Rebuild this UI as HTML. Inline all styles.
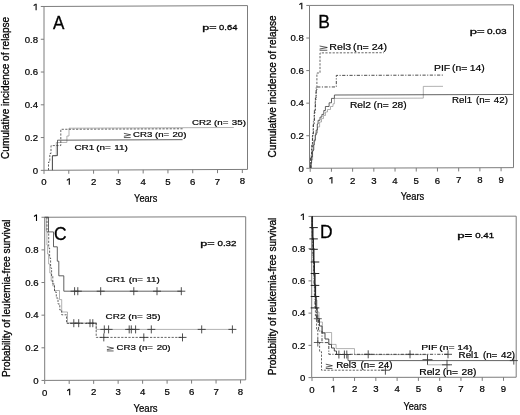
<!DOCTYPE html>
<html><head><meta charset="utf-8"><title>Figure</title>
<style>
html,body{margin:0;padding:0;background:#fff;}
body{width:520px;height:415px;overflow:hidden;}
svg{display:block;font-family:"Liberation Sans",sans-serif;}
</style></head><body>
<svg width="520" height="415" viewBox="0 0 520 415">
<rect width="520" height="415" fill="#fff"/>
<defs><filter id="bl" x="0" y="0" width="100%" height="100%" filterUnits="userSpaceOnUse" color-interpolation-filters="sRGB"><feGaussianBlur stdDeviation="0.38"/></filter></defs>
<g id="all" filter="url(#bl)">
<g id="A">
<path d="M44.00,6.47 L247.50,5.59 L247.50,169.42 L44.00,170.30 Z" fill="none" stroke="#7c7c7c" stroke-width="1"/>
<line x1="40.80" y1="170.35" x2="44.00" y2="170.35" stroke="#7c7c7c" stroke-width="1" />
<text x="38.10" y="173.65" font-size="9.6" text-anchor="end" font-weight="normal" fill="#000" stroke="#000" stroke-width="0.22">0</text>
<line x1="40.80" y1="137.57" x2="44.00" y2="137.57" stroke="#7c7c7c" stroke-width="1" />
<text x="38.10" y="140.87" font-size="9.6" text-anchor="end" font-weight="normal" fill="#000" stroke="#000" stroke-width="0.22">0.2</text>
<line x1="40.80" y1="104.80" x2="44.00" y2="104.80" stroke="#7c7c7c" stroke-width="1" />
<text x="38.10" y="108.10" font-size="9.6" text-anchor="end" font-weight="normal" fill="#000" stroke="#000" stroke-width="0.22">0.4</text>
<line x1="40.80" y1="72.02" x2="44.00" y2="72.02" stroke="#7c7c7c" stroke-width="1" />
<text x="38.10" y="75.32" font-size="9.6" text-anchor="end" font-weight="normal" fill="#000" stroke="#000" stroke-width="0.22">0.6</text>
<line x1="40.80" y1="39.25" x2="44.00" y2="39.25" stroke="#7c7c7c" stroke-width="1" />
<text x="38.10" y="42.55" font-size="9.6" text-anchor="end" font-weight="normal" fill="#000" stroke="#000" stroke-width="0.22">0.8</text>
<line x1="40.80" y1="6.47" x2="44.00" y2="6.47" stroke="#7c7c7c" stroke-width="1" />
<path d="M36.10,3.67 L36.10,10.17" fill="none" stroke="#000" stroke-width="1.1"/>
<path d="M33.65,5.67 L35.65,4.22" fill="none" stroke="#000" stroke-width="1.1"/>
<line x1="44.00" y1="170.30" x2="44.00" y2="173.90" stroke="#7c7c7c" stroke-width="1" />
<text x="44.00" y="185.30" font-size="9.6" text-anchor="middle" font-weight="normal" fill="#000" stroke="#000" stroke-width="0.22">0</text>
<line x1="68.79" y1="170.19" x2="68.79" y2="173.79" stroke="#7c7c7c" stroke-width="1" />
<path d="M69.29,178.34 L69.29,184.84" fill="none" stroke="#000" stroke-width="1.1"/>
<path d="M66.84,180.34 L68.84,178.89" fill="none" stroke="#000" stroke-width="1.1"/>
<line x1="93.58" y1="170.09" x2="93.58" y2="173.69" stroke="#7c7c7c" stroke-width="1" />
<text x="93.58" y="185.09" font-size="9.6" text-anchor="middle" font-weight="normal" fill="#000" stroke="#000" stroke-width="0.22">2</text>
<line x1="118.37" y1="169.98" x2="118.37" y2="173.58" stroke="#7c7c7c" stroke-width="1" />
<text x="118.37" y="184.98" font-size="9.6" text-anchor="middle" font-weight="normal" fill="#000" stroke="#000" stroke-width="0.22">3</text>
<line x1="143.16" y1="169.87" x2="143.16" y2="173.47" stroke="#7c7c7c" stroke-width="1" />
<text x="143.16" y="184.87" font-size="9.6" text-anchor="middle" font-weight="normal" fill="#000" stroke="#000" stroke-width="0.22">4</text>
<line x1="167.95" y1="169.77" x2="167.95" y2="173.37" stroke="#7c7c7c" stroke-width="1" />
<text x="167.95" y="184.77" font-size="9.6" text-anchor="middle" font-weight="normal" fill="#000" stroke="#000" stroke-width="0.22">5</text>
<line x1="192.74" y1="169.66" x2="192.74" y2="173.26" stroke="#7c7c7c" stroke-width="1" />
<text x="192.74" y="184.66" font-size="9.6" text-anchor="middle" font-weight="normal" fill="#000" stroke="#000" stroke-width="0.22">6</text>
<line x1="217.53" y1="169.55" x2="217.53" y2="173.15" stroke="#7c7c7c" stroke-width="1" />
<text x="217.53" y="184.55" font-size="9.6" text-anchor="middle" font-weight="normal" fill="#000" stroke="#000" stroke-width="0.22">7</text>
<line x1="242.32" y1="169.45" x2="242.32" y2="173.05" stroke="#7c7c7c" stroke-width="1" />
<text x="242.32" y="184.45" font-size="9.6" text-anchor="middle" font-weight="normal" fill="#000" stroke="#000" stroke-width="0.22">8</text>
<text transform="translate(9.30,87.91) rotate(-90)" font-size="10" text-anchor="middle" fill="#000" stroke="#000" stroke-width="0.3" textLength="142.00" lengthAdjust="spacingAndGlyphs">Cumulative incidence of relapse</text>
<text x="134.10" y="202.20" font-size="10.1" text-anchor="start" font-weight="normal" fill="#000" textLength="23.20" lengthAdjust="spacingAndGlyphs" stroke="#000" stroke-width="0.22">Years</text>
<text x="53.00" y="28.80" font-size="17.8" text-anchor="start" font-weight="normal" fill="#000" textLength="11.40" lengthAdjust="spacingAndGlyphs" stroke="#000" stroke-width="0.3">A</text>
<text x="202.30" y="29.90" font-size="7.3" text-anchor="start" font-weight="normal" fill="#000" textLength="14.31" lengthAdjust="spacingAndGlyphs" stroke="#000" stroke-width="0.26">p=</text>
<text x="219.09" y="29.90" font-size="7.3" text-anchor="start" font-weight="normal" fill="#000" textLength="18.28" lengthAdjust="spacingAndGlyphs" stroke="#000" stroke-width="0.26">0.64</text>
<path d="M52.20,170.20 L52.20,156.00 L56.30,155.98 L56.30,142.50 L66.90,142.45 L66.90,136.00 L69.00,135.99 L69.00,128.20 L233.80,127.49" fill="none" stroke="#909090" stroke-width="0.7" />
<path d="M48.50,170.20 L48.50,162.00 L49.80,161.99 L49.80,153.50 L51.00,153.49 L51.00,145.60 L60.80,145.56 L60.80,129.30 L182.60,128.78" fill="none" stroke="#333" stroke-width="0.75" stroke-dasharray="2.2,1.4" />
<path d="M52.50,170.20 L52.50,155.60 L57.50,155.58 L57.50,140.20 L182.60,139.66" fill="none" stroke="#3a3a3a" stroke-width="0.8" />
<text x="74.40" y="149.50" font-size="7.2" text-anchor="start" font-weight="normal" fill="#000" textLength="19.84" lengthAdjust="spacingAndGlyphs" stroke="#000" stroke-width="0.2">CR1</text>
<text x="96.25" y="149.50" font-size="7.2" text-anchor="start" font-weight="normal" fill="#000" textLength="14.61" lengthAdjust="spacingAndGlyphs" stroke="#000" stroke-width="0.2">(n=</text>
<text x="114.22" y="149.50" font-size="7.2" text-anchor="start" font-weight="normal" fill="#000" textLength="13.60" lengthAdjust="spacingAndGlyphs" stroke="#000" stroke-width="0.2">11)</text>
<path d="M123.90,133.30 L130.60,134.80 L123.90,136.30 M123.90,137.55 L130.60,137.55" fill="none" stroke="#1a1a1a" stroke-width="0.72"/>
<text x="133.12" y="137.00" font-size="7.2" text-anchor="start" font-weight="normal" fill="#000" textLength="19.21" lengthAdjust="spacingAndGlyphs" stroke="#000" stroke-width="0.2">CR3</text>
<text x="155.02" y="137.00" font-size="7.2" text-anchor="start" font-weight="normal" fill="#000" textLength="14.15" lengthAdjust="spacingAndGlyphs" stroke="#000" stroke-width="0.2">(n=</text>
<text x="172.51" y="137.00" font-size="7.2" text-anchor="start" font-weight="normal" fill="#000" textLength="13.88" lengthAdjust="spacingAndGlyphs" stroke="#000" stroke-width="0.2">20)</text>
<text x="192.01" y="124.50" font-size="7.3" text-anchor="start" font-weight="normal" fill="#000" textLength="19.49" lengthAdjust="spacingAndGlyphs" stroke="#000" stroke-width="0.2">CR2</text>
<text x="214.01" y="124.50" font-size="7.3" text-anchor="start" font-weight="normal" fill="#000" textLength="14.35" lengthAdjust="spacingAndGlyphs" stroke="#000" stroke-width="0.2">(n=</text>
<text x="231.82" y="124.50" font-size="7.3" text-anchor="start" font-weight="normal" fill="#000" textLength="14.08" lengthAdjust="spacingAndGlyphs" stroke="#000" stroke-width="0.2">35)</text>
</g>
<g id="B">
<path d="M309.50,5.45 L513.50,4.84 L513.50,167.64 L309.50,168.25 Z" fill="none" stroke="#7c7c7c" stroke-width="1"/>
<line x1="306.30" y1="168.30" x2="309.50" y2="168.30" stroke="#7c7c7c" stroke-width="1" />
<text x="303.80" y="171.60" font-size="9.6" text-anchor="end" font-weight="normal" fill="#000" stroke="#000" stroke-width="0.22">0</text>
<line x1="306.30" y1="135.73" x2="309.50" y2="135.73" stroke="#7c7c7c" stroke-width="1" />
<text x="303.80" y="139.03" font-size="9.6" text-anchor="end" font-weight="normal" fill="#000" stroke="#000" stroke-width="0.22">0.2</text>
<line x1="306.30" y1="103.16" x2="309.50" y2="103.16" stroke="#7c7c7c" stroke-width="1" />
<text x="303.80" y="106.46" font-size="9.6" text-anchor="end" font-weight="normal" fill="#000" stroke="#000" stroke-width="0.22">0.4</text>
<line x1="306.30" y1="70.59" x2="309.50" y2="70.59" stroke="#7c7c7c" stroke-width="1" />
<text x="303.80" y="73.89" font-size="9.6" text-anchor="end" font-weight="normal" fill="#000" stroke="#000" stroke-width="0.22">0.6</text>
<line x1="306.30" y1="38.02" x2="309.50" y2="38.02" stroke="#7c7c7c" stroke-width="1" />
<text x="303.80" y="41.32" font-size="9.6" text-anchor="end" font-weight="normal" fill="#000" stroke="#000" stroke-width="0.22">0.8</text>
<line x1="306.30" y1="5.45" x2="309.50" y2="5.45" stroke="#7c7c7c" stroke-width="1" />
<path d="M301.80,2.65 L301.80,9.15" fill="none" stroke="#000" stroke-width="1.1"/>
<path d="M299.35,4.65 L301.35,3.20" fill="none" stroke="#000" stroke-width="1.1"/>
<line x1="310.20" y1="168.25" x2="310.20" y2="171.85" stroke="#7c7c7c" stroke-width="1" />
<text x="310.20" y="183.90" font-size="9.6" text-anchor="middle" font-weight="normal" fill="#000" stroke="#000" stroke-width="0.22">0</text>
<line x1="331.41" y1="168.18" x2="331.41" y2="171.78" stroke="#7c7c7c" stroke-width="1" />
<path d="M331.91,176.98 L331.91,183.48" fill="none" stroke="#000" stroke-width="1.1"/>
<path d="M329.46,178.98 L331.46,177.53" fill="none" stroke="#000" stroke-width="1.1"/>
<line x1="352.62" y1="168.12" x2="352.62" y2="171.72" stroke="#7c7c7c" stroke-width="1" />
<text x="352.62" y="183.77" font-size="9.6" text-anchor="middle" font-weight="normal" fill="#000" stroke="#000" stroke-width="0.22">2</text>
<line x1="373.83" y1="168.06" x2="373.83" y2="171.66" stroke="#7c7c7c" stroke-width="1" />
<text x="373.83" y="183.71" font-size="9.6" text-anchor="middle" font-weight="normal" fill="#000" stroke="#000" stroke-width="0.22">3</text>
<line x1="395.04" y1="167.99" x2="395.04" y2="171.59" stroke="#7c7c7c" stroke-width="1" />
<text x="395.04" y="183.64" font-size="9.6" text-anchor="middle" font-weight="normal" fill="#000" stroke="#000" stroke-width="0.22">4</text>
<line x1="416.25" y1="167.93" x2="416.25" y2="171.53" stroke="#7c7c7c" stroke-width="1" />
<text x="416.25" y="183.58" font-size="9.6" text-anchor="middle" font-weight="normal" fill="#000" stroke="#000" stroke-width="0.22">5</text>
<line x1="437.46" y1="167.87" x2="437.46" y2="171.47" stroke="#7c7c7c" stroke-width="1" />
<text x="437.46" y="183.52" font-size="9.6" text-anchor="middle" font-weight="normal" fill="#000" stroke="#000" stroke-width="0.22">6</text>
<line x1="458.67" y1="167.80" x2="458.67" y2="171.40" stroke="#7c7c7c" stroke-width="1" />
<text x="458.67" y="183.45" font-size="9.6" text-anchor="middle" font-weight="normal" fill="#000" stroke="#000" stroke-width="0.22">7</text>
<line x1="479.88" y1="167.74" x2="479.88" y2="171.34" stroke="#7c7c7c" stroke-width="1" />
<text x="479.88" y="183.39" font-size="9.6" text-anchor="middle" font-weight="normal" fill="#000" stroke="#000" stroke-width="0.22">8</text>
<line x1="501.09" y1="167.68" x2="501.09" y2="171.28" stroke="#7c7c7c" stroke-width="1" />
<text x="501.09" y="183.33" font-size="9.6" text-anchor="middle" font-weight="normal" fill="#000" stroke="#000" stroke-width="0.22">9</text>
<text transform="translate(276.10,86.38) rotate(-90)" font-size="10" text-anchor="middle" fill="#000" stroke="#000" stroke-width="0.3" textLength="142.00" lengthAdjust="spacingAndGlyphs">Cumulative incidence of relapse</text>
<text x="400.70" y="200.40" font-size="10.1" text-anchor="start" font-weight="normal" fill="#000" textLength="23.50" lengthAdjust="spacingAndGlyphs" stroke="#000" stroke-width="0.22">Years</text>
<text x="318.30" y="27.90" font-size="18" text-anchor="start" font-weight="normal" fill="#000" textLength="11.64" lengthAdjust="spacingAndGlyphs" stroke="#000" stroke-width="0.3">B</text>
<text x="469.77" y="34.10" font-size="7.3" text-anchor="start" font-weight="normal" fill="#000" textLength="14.87" lengthAdjust="spacingAndGlyphs" stroke="#000" stroke-width="0.26">p=</text>
<text x="487.06" y="34.10" font-size="7.3" text-anchor="start" font-weight="normal" fill="#000" textLength="19.48" lengthAdjust="spacingAndGlyphs" stroke="#000" stroke-width="0.26">0.03</text>
<path d="M311.50,168.00 L311.50,160.00 L312.60,160.00 L312.60,150.00 L314.00,150.00 L314.00,141.00 L315.50,141.00 L315.50,133.00 L317.50,132.99 L317.50,127.00 L319.60,126.99 L319.60,122.00 L321.50,121.99 L321.50,118.60 L323.50,118.59 L323.50,115.50 L325.50,115.49 L325.50,112.00 L327.50,111.99 L327.50,109.50 L330.50,109.49 L330.50,106.50 L333.00,106.49 L333.00,103.80 L334.40,103.80 L334.40,98.40 L423.30,98.13 L423.30,86.40 L443.00,86.34" fill="none" stroke="#909090" stroke-width="0.7" />
<path d="M310.60,168.00 L310.60,156.00 L311.80,156.00 L311.80,145.00 L312.60,145.00 L312.60,133.50 L313.40,133.50 L313.40,121.50 L314.40,121.50 L314.40,110.00 L315.40,110.00 L315.40,98.00 L316.20,98.00 L316.20,87.00 L336.30,86.94 L336.30,75.40 L443.00,75.08" fill="none" stroke="#2a2a2a" stroke-width="0.85" stroke-dasharray="3.2,1.5,1.1,1.5" />
<path d="M310.90,168.00 L310.90,158.00 L311.60,158.00 L311.60,147.00 L312.40,147.00 L312.40,136.00 L313.20,136.00 L313.20,124.00 L314.20,124.00 L314.20,113.00 L315.20,113.00 L315.20,100.00 L316.00,100.00 L316.00,90.00 L316.90,90.00 L316.90,73.00 L320.00,72.99 L320.00,52.90 L383.80,52.71" fill="none" stroke="#333" stroke-width="0.75" stroke-dasharray="2.2,1.4" />
<path d="M310.80,168.00 L310.80,163.00 L311.60,163.00 L311.60,157.00 L312.40,157.00 L312.40,151.00 L313.30,151.00 L313.30,145.00 L314.20,145.00 L314.20,140.00 L315.20,140.00 L315.20,135.00 L316.20,135.00 L316.20,130.00 L317.30,130.00 L317.30,124.00 L318.10,124.00 L318.10,120.30 L320.00,120.29 L320.00,117.10 L321.90,117.09 L321.90,114.40 L323.80,114.39 L323.80,110.50 L325.40,110.50 L325.40,106.50 L329.10,106.49 L329.10,102.80 L331.50,102.79 L331.50,98.40 L334.40,98.39 L334.40,95.00 L512.80,94.46" fill="none" stroke="#3a3a3a" stroke-width="0.8" />
<path d="M319.60,46.00 L327.30,47.50 L319.60,49.00 M319.60,50.25 L327.30,50.25" fill="none" stroke="#1a1a1a" stroke-width="0.72"/>
<text x="329.34" y="49.70" font-size="8.3" text-anchor="start" font-weight="normal" fill="#000" textLength="21.82" lengthAdjust="spacingAndGlyphs" stroke="#000" stroke-width="0.18">Rel3</text>
<text x="353.14" y="49.70" font-size="8.3" text-anchor="start" font-weight="normal" fill="#000" textLength="15.63" lengthAdjust="spacingAndGlyphs" stroke="#000" stroke-width="0.18">(n=</text>
<text x="371.72" y="49.70" font-size="8.3" text-anchor="start" font-weight="normal" fill="#000" textLength="15.34" lengthAdjust="spacingAndGlyphs" stroke="#000" stroke-width="0.18">24)</text>
<text x="434.00" y="70.60" font-size="8.3" text-anchor="start" font-weight="normal" fill="#000" textLength="16.27" lengthAdjust="spacingAndGlyphs" stroke="#000" stroke-width="0.18">PIF</text>
<text x="451.92" y="70.60" font-size="8.3" text-anchor="start" font-weight="normal" fill="#000" textLength="15.41" lengthAdjust="spacingAndGlyphs" stroke="#000" stroke-width="0.18">(n=</text>
<text x="469.73" y="70.60" font-size="8.3" text-anchor="start" font-weight="normal" fill="#000" textLength="15.12" lengthAdjust="spacingAndGlyphs" stroke="#000" stroke-width="0.18">14)</text>
<text x="452.11" y="102.70" font-size="8.3" text-anchor="start" font-weight="normal" fill="#000" textLength="19.95" lengthAdjust="spacingAndGlyphs" stroke="#000" stroke-width="0.18">Rel1</text>
<text x="475.99" y="102.70" font-size="8.3" text-anchor="start" font-weight="normal" fill="#000" textLength="14.29" lengthAdjust="spacingAndGlyphs" stroke="#000" stroke-width="0.18">(n=</text>
<text x="493.88" y="102.70" font-size="8.3" text-anchor="start" font-weight="normal" fill="#000" textLength="14.02" lengthAdjust="spacingAndGlyphs" stroke="#000" stroke-width="0.18">42)</text>
<text x="349.97" y="107.70" font-size="8.3" text-anchor="start" font-weight="normal" fill="#000" textLength="21.09" lengthAdjust="spacingAndGlyphs" stroke="#000" stroke-width="0.18">Rel2</text>
<text x="373.52" y="107.70" font-size="8.3" text-anchor="start" font-weight="normal" fill="#000" textLength="15.11" lengthAdjust="spacingAndGlyphs" stroke="#000" stroke-width="0.18">(n=</text>
<text x="391.91" y="107.70" font-size="8.3" text-anchor="start" font-weight="normal" fill="#000" textLength="14.82" lengthAdjust="spacingAndGlyphs" stroke="#000" stroke-width="0.18">28)</text>
</g>
<g id="C">
<path d="M44.70,217.25 L245.70,216.71 L245.70,379.86 L44.70,380.40 Z" fill="none" stroke="#7c7c7c" stroke-width="1"/>
<line x1="41.50" y1="380.45" x2="44.70" y2="380.45" stroke="#7c7c7c" stroke-width="1" />
<text x="38.50" y="383.75" font-size="9.6" text-anchor="end" font-weight="normal" fill="#000" stroke="#000" stroke-width="0.22">0</text>
<line x1="41.50" y1="347.81" x2="44.70" y2="347.81" stroke="#7c7c7c" stroke-width="1" />
<text x="38.50" y="351.11" font-size="9.6" text-anchor="end" font-weight="normal" fill="#000" stroke="#000" stroke-width="0.22">0.2</text>
<line x1="41.50" y1="315.17" x2="44.70" y2="315.17" stroke="#7c7c7c" stroke-width="1" />
<text x="38.50" y="318.47" font-size="9.6" text-anchor="end" font-weight="normal" fill="#000" stroke="#000" stroke-width="0.22">0.4</text>
<line x1="41.50" y1="282.53" x2="44.70" y2="282.53" stroke="#7c7c7c" stroke-width="1" />
<text x="38.50" y="285.83" font-size="9.6" text-anchor="end" font-weight="normal" fill="#000" stroke="#000" stroke-width="0.22">0.6</text>
<line x1="41.50" y1="249.89" x2="44.70" y2="249.89" stroke="#7c7c7c" stroke-width="1" />
<text x="38.50" y="253.19" font-size="9.6" text-anchor="end" font-weight="normal" fill="#000" stroke="#000" stroke-width="0.22">0.8</text>
<line x1="41.50" y1="217.25" x2="44.70" y2="217.25" stroke="#7c7c7c" stroke-width="1" />
<path d="M36.50,214.45 L36.50,220.95" fill="none" stroke="#000" stroke-width="1.1"/>
<path d="M34.05,216.45 L36.05,215.00" fill="none" stroke="#000" stroke-width="1.1"/>
<line x1="44.70" y1="380.40" x2="44.70" y2="384.00" stroke="#7c7c7c" stroke-width="1" />
<text x="44.70" y="395.60" font-size="9.6" text-anchor="middle" font-weight="normal" fill="#000" stroke="#000" stroke-width="0.22">0</text>
<line x1="69.18" y1="380.33" x2="69.18" y2="383.93" stroke="#7c7c7c" stroke-width="1" />
<path d="M69.68,388.68 L69.68,395.18" fill="none" stroke="#000" stroke-width="1.1"/>
<path d="M67.23,390.68 L69.23,389.23" fill="none" stroke="#000" stroke-width="1.1"/>
<line x1="93.66" y1="380.27" x2="93.66" y2="383.87" stroke="#7c7c7c" stroke-width="1" />
<text x="93.66" y="395.47" font-size="9.6" text-anchor="middle" font-weight="normal" fill="#000" stroke="#000" stroke-width="0.22">2</text>
<line x1="118.14" y1="380.20" x2="118.14" y2="383.80" stroke="#7c7c7c" stroke-width="1" />
<text x="118.14" y="395.40" font-size="9.6" text-anchor="middle" font-weight="normal" fill="#000" stroke="#000" stroke-width="0.22">3</text>
<line x1="142.62" y1="380.14" x2="142.62" y2="383.74" stroke="#7c7c7c" stroke-width="1" />
<text x="142.62" y="395.34" font-size="9.6" text-anchor="middle" font-weight="normal" fill="#000" stroke="#000" stroke-width="0.22">4</text>
<line x1="167.10" y1="380.07" x2="167.10" y2="383.67" stroke="#7c7c7c" stroke-width="1" />
<text x="167.10" y="395.27" font-size="9.6" text-anchor="middle" font-weight="normal" fill="#000" stroke="#000" stroke-width="0.22">5</text>
<line x1="191.58" y1="380.00" x2="191.58" y2="383.60" stroke="#7c7c7c" stroke-width="1" />
<text x="191.58" y="395.20" font-size="9.6" text-anchor="middle" font-weight="normal" fill="#000" stroke="#000" stroke-width="0.22">6</text>
<line x1="216.06" y1="379.94" x2="216.06" y2="383.54" stroke="#7c7c7c" stroke-width="1" />
<text x="216.06" y="395.14" font-size="9.6" text-anchor="middle" font-weight="normal" fill="#000" stroke="#000" stroke-width="0.22">7</text>
<line x1="240.54" y1="379.87" x2="240.54" y2="383.47" stroke="#7c7c7c" stroke-width="1" />
<text x="240.54" y="395.07" font-size="9.6" text-anchor="middle" font-weight="normal" fill="#000" stroke="#000" stroke-width="0.22">8</text>
<text transform="translate(9.60,298.35) rotate(-90)" font-size="10" text-anchor="middle" fill="#000" stroke="#000" stroke-width="0.3" textLength="157.50" lengthAdjust="spacingAndGlyphs">Probability of leukemia-free survival</text>
<text x="133.50" y="412.40" font-size="10.1" text-anchor="start" font-weight="normal" fill="#000" textLength="24.10" lengthAdjust="spacingAndGlyphs" stroke="#000" stroke-width="0.22">Years</text>
<text x="54.10" y="239.90" font-size="18.3" text-anchor="start" font-weight="normal" fill="#000" textLength="12.57" lengthAdjust="spacingAndGlyphs" stroke="#000" stroke-width="0.3">C</text>
<text x="200.19" y="245.70" font-size="7.3" text-anchor="start" font-weight="normal" fill="#000" textLength="14.43" lengthAdjust="spacingAndGlyphs" stroke="#000" stroke-width="0.26">p=</text>
<text x="217.47" y="245.70" font-size="7.3" text-anchor="start" font-weight="normal" fill="#000" textLength="18.97" lengthAdjust="spacingAndGlyphs" stroke="#000" stroke-width="0.26">0.32</text>
<path d="M46.30,217.20 L46.30,231.00 L46.90,231.00 L46.90,245.00 L47.60,245.00 L47.60,254.00 L48.60,254.00 L48.60,264.00 L49.80,264.00 L49.80,273.00 L51.20,273.00 L51.20,281.00 L52.80,281.00 L52.80,286.00 L54.50,286.00 L54.50,290.50 L59.50,290.50 L59.50,299.60 L61.70,299.60 L61.70,312.00 L67.50,312.00 L67.50,323.00 L96.20,323.00 L96.20,329.40 L232.60,329.40" fill="none" stroke="#909090" stroke-width="0.7" />
<path d="M47.00,217.20 L47.00,232.00 L48.70,232.00 L48.70,248.00 L49.60,248.00 L49.60,258.00 L50.60,258.00 L50.60,268.00 L51.60,268.00 L51.60,276.00 L52.80,276.00 L52.80,284.00 L54.50,284.00 L54.50,292.00 L56.30,292.00 L56.30,298.00 L58.00,298.00 L58.00,304.00 L59.80,304.00 L59.80,310.00 L61.70,310.00 L61.70,314.80 L66.50,314.80 L66.50,323.40 L96.20,323.40 L96.20,337.40 L182.60,337.40" fill="none" stroke="#333" stroke-width="0.75" stroke-dasharray="2.2,1.4" />
<path d="M44.50,217.20 L48.50,217.20 L48.50,231.90 L53.50,231.90 L53.50,246.80 L57.30,246.80 L57.30,261.20 L58.80,261.20 L58.80,275.80 L63.80,275.80 L63.80,291.20 L181.30,291.20" fill="none" stroke="#3a3a3a" stroke-width="0.8" />
<line x1="74.60" y1="287.20" x2="74.60" y2="295.20" stroke="#3a3a3a" stroke-width="0.9" />
<line x1="70.60" y1="291.20" x2="78.60" y2="291.20" stroke="#3a3a3a" stroke-width="0.9" />
<line x1="77.80" y1="287.20" x2="77.80" y2="295.20" stroke="#3a3a3a" stroke-width="0.9" />
<line x1="73.80" y1="291.20" x2="81.80" y2="291.20" stroke="#3a3a3a" stroke-width="0.9" />
<line x1="100.70" y1="287.20" x2="100.70" y2="295.20" stroke="#3a3a3a" stroke-width="0.9" />
<line x1="96.70" y1="291.20" x2="104.70" y2="291.20" stroke="#3a3a3a" stroke-width="0.9" />
<line x1="133.80" y1="287.20" x2="133.80" y2="295.20" stroke="#3a3a3a" stroke-width="0.9" />
<line x1="129.80" y1="291.20" x2="137.80" y2="291.20" stroke="#3a3a3a" stroke-width="0.9" />
<line x1="157.00" y1="287.20" x2="157.00" y2="295.20" stroke="#3a3a3a" stroke-width="0.9" />
<line x1="153.00" y1="291.20" x2="161.00" y2="291.20" stroke="#3a3a3a" stroke-width="0.9" />
<line x1="181.30" y1="287.20" x2="181.30" y2="295.20" stroke="#3a3a3a" stroke-width="0.9" />
<line x1="177.30" y1="291.20" x2="185.30" y2="291.20" stroke="#3a3a3a" stroke-width="0.9" />
<line x1="73.80" y1="319.20" x2="73.80" y2="327.20" stroke="#3a3a3a" stroke-width="0.9" />
<line x1="69.80" y1="323.20" x2="77.80" y2="323.20" stroke="#3a3a3a" stroke-width="0.9" />
<line x1="78.70" y1="319.20" x2="78.70" y2="327.20" stroke="#3a3a3a" stroke-width="0.9" />
<line x1="74.70" y1="323.20" x2="82.70" y2="323.20" stroke="#3a3a3a" stroke-width="0.9" />
<line x1="90.00" y1="319.20" x2="90.00" y2="327.20" stroke="#3a3a3a" stroke-width="0.9" />
<line x1="86.00" y1="323.20" x2="94.00" y2="323.20" stroke="#3a3a3a" stroke-width="0.9" />
<line x1="92.80" y1="319.20" x2="92.80" y2="327.20" stroke="#3a3a3a" stroke-width="0.9" />
<line x1="88.80" y1="323.20" x2="96.80" y2="323.20" stroke="#3a3a3a" stroke-width="0.9" />
<line x1="104.30" y1="325.40" x2="104.30" y2="333.40" stroke="#3a3a3a" stroke-width="0.9" />
<line x1="100.30" y1="329.40" x2="108.30" y2="329.40" stroke="#3a3a3a" stroke-width="0.9" />
<line x1="108.60" y1="325.40" x2="108.60" y2="333.40" stroke="#3a3a3a" stroke-width="0.9" />
<line x1="104.60" y1="329.40" x2="112.60" y2="329.40" stroke="#3a3a3a" stroke-width="0.9" />
<line x1="129.20" y1="325.40" x2="129.20" y2="333.40" stroke="#3a3a3a" stroke-width="0.9" />
<line x1="125.20" y1="329.40" x2="133.20" y2="329.40" stroke="#3a3a3a" stroke-width="0.9" />
<line x1="131.30" y1="325.40" x2="131.30" y2="333.40" stroke="#3a3a3a" stroke-width="0.9" />
<line x1="127.30" y1="329.40" x2="135.30" y2="329.40" stroke="#3a3a3a" stroke-width="0.9" />
<line x1="135.60" y1="325.40" x2="135.60" y2="333.40" stroke="#3a3a3a" stroke-width="0.9" />
<line x1="131.60" y1="329.40" x2="139.60" y2="329.40" stroke="#3a3a3a" stroke-width="0.9" />
<line x1="151.30" y1="325.40" x2="151.30" y2="333.40" stroke="#3a3a3a" stroke-width="0.9" />
<line x1="147.30" y1="329.40" x2="155.30" y2="329.40" stroke="#3a3a3a" stroke-width="0.9" />
<line x1="201.70" y1="325.40" x2="201.70" y2="333.40" stroke="#3a3a3a" stroke-width="0.9" />
<line x1="197.70" y1="329.40" x2="205.70" y2="329.40" stroke="#3a3a3a" stroke-width="0.9" />
<line x1="232.40" y1="325.40" x2="232.40" y2="333.40" stroke="#3a3a3a" stroke-width="0.9" />
<line x1="228.40" y1="329.40" x2="236.40" y2="329.40" stroke="#3a3a3a" stroke-width="0.9" />
<line x1="103.80" y1="333.40" x2="103.80" y2="341.40" stroke="#3a3a3a" stroke-width="0.9" />
<line x1="99.80" y1="337.40" x2="107.80" y2="337.40" stroke="#3a3a3a" stroke-width="0.9" />
<line x1="143.80" y1="333.40" x2="143.80" y2="341.40" stroke="#3a3a3a" stroke-width="0.9" />
<line x1="139.80" y1="337.40" x2="147.80" y2="337.40" stroke="#3a3a3a" stroke-width="0.9" />
<line x1="182.50" y1="333.40" x2="182.50" y2="341.40" stroke="#3a3a3a" stroke-width="0.9" />
<line x1="178.50" y1="337.40" x2="186.50" y2="337.40" stroke="#3a3a3a" stroke-width="0.9" />
<text x="105.91" y="281.90" font-size="8.0" text-anchor="start" font-weight="normal" fill="#000" textLength="19.44" lengthAdjust="spacingAndGlyphs" stroke="#000" stroke-width="0.2">CR1</text>
<text x="128.68" y="281.90" font-size="8.0" text-anchor="start" font-weight="normal" fill="#000" textLength="14.31" lengthAdjust="spacingAndGlyphs" stroke="#000" stroke-width="0.2">(n=</text>
<text x="146.38" y="281.90" font-size="8.0" text-anchor="start" font-weight="normal" fill="#000" textLength="13.32" lengthAdjust="spacingAndGlyphs" stroke="#000" stroke-width="0.2">11)</text>
<text x="105.61" y="319.10" font-size="8.0" text-anchor="start" font-weight="normal" fill="#000" textLength="19.79" lengthAdjust="spacingAndGlyphs" stroke="#000" stroke-width="0.2">CR2</text>
<text x="128.19" y="319.10" font-size="8.0" text-anchor="start" font-weight="normal" fill="#000" textLength="14.58" lengthAdjust="spacingAndGlyphs" stroke="#000" stroke-width="0.2">(n=</text>
<text x="146.21" y="319.10" font-size="8.0" text-anchor="start" font-weight="normal" fill="#000" textLength="14.30" lengthAdjust="spacingAndGlyphs" stroke="#000" stroke-width="0.2">35)</text>
<path d="M106.90,346.70 L113.60,348.20 L106.90,349.70 M106.90,350.95 L113.60,350.95" fill="none" stroke="#1a1a1a" stroke-width="0.72"/>
<text x="116.52" y="350.40" font-size="8.0" text-anchor="start" font-weight="normal" fill="#000" textLength="19.30" lengthAdjust="spacingAndGlyphs" stroke="#000" stroke-width="0.2">CR3</text>
<text x="138.80" y="350.40" font-size="8.0" text-anchor="start" font-weight="normal" fill="#000" textLength="14.21" lengthAdjust="spacingAndGlyphs" stroke="#000" stroke-width="0.2">(n=</text>
<text x="156.65" y="350.40" font-size="8.0" text-anchor="start" font-weight="normal" fill="#000" textLength="13.94" lengthAdjust="spacingAndGlyphs" stroke="#000" stroke-width="0.2">20)</text>
</g>
<g id="D">
<path d="M311.70,216.40 L516.20,216.18 L516.20,377.23 L311.70,377.45 Z" fill="none" stroke="#7c7c7c" stroke-width="1"/>
<line x1="308.50" y1="377.60" x2="311.70" y2="377.60" stroke="#7c7c7c" stroke-width="1" />
<text x="305.30" y="380.90" font-size="9.6" text-anchor="end" font-weight="normal" fill="#000" stroke="#000" stroke-width="0.22">0</text>
<line x1="308.50" y1="345.36" x2="311.70" y2="345.36" stroke="#7c7c7c" stroke-width="1" />
<text x="305.30" y="348.66" font-size="9.6" text-anchor="end" font-weight="normal" fill="#000" stroke="#000" stroke-width="0.22">0.2</text>
<line x1="308.50" y1="313.12" x2="311.70" y2="313.12" stroke="#7c7c7c" stroke-width="1" />
<text x="305.30" y="316.42" font-size="9.6" text-anchor="end" font-weight="normal" fill="#000" stroke="#000" stroke-width="0.22">0.4</text>
<line x1="308.50" y1="280.88" x2="311.70" y2="280.88" stroke="#7c7c7c" stroke-width="1" />
<text x="305.30" y="284.18" font-size="9.6" text-anchor="end" font-weight="normal" fill="#000" stroke="#000" stroke-width="0.22">0.6</text>
<line x1="308.50" y1="248.64" x2="311.70" y2="248.64" stroke="#7c7c7c" stroke-width="1" />
<text x="305.30" y="251.94" font-size="9.6" text-anchor="end" font-weight="normal" fill="#000" stroke="#000" stroke-width="0.22">0.8</text>
<line x1="308.50" y1="216.40" x2="311.70" y2="216.40" stroke="#7c7c7c" stroke-width="1" />
<path d="M303.30,213.60 L303.30,220.10" fill="none" stroke="#000" stroke-width="1.1"/>
<path d="M300.85,215.60 L302.85,214.15" fill="none" stroke="#000" stroke-width="1.1"/>
<line x1="312.00" y1="377.45" x2="312.00" y2="381.05" stroke="#7c7c7c" stroke-width="1" />
<text x="312.00" y="392.50" font-size="9.6" text-anchor="middle" font-weight="normal" fill="#000" stroke="#000" stroke-width="0.22">0</text>
<line x1="333.28" y1="377.43" x2="333.28" y2="381.03" stroke="#7c7c7c" stroke-width="1" />
<path d="M333.78,385.63 L333.78,392.13" fill="none" stroke="#000" stroke-width="1.1"/>
<path d="M331.33,387.63 L333.33,386.18" fill="none" stroke="#000" stroke-width="1.1"/>
<line x1="354.56" y1="377.40" x2="354.56" y2="381.00" stroke="#7c7c7c" stroke-width="1" />
<text x="354.56" y="392.45" font-size="9.6" text-anchor="middle" font-weight="normal" fill="#000" stroke="#000" stroke-width="0.22">2</text>
<line x1="375.84" y1="377.38" x2="375.84" y2="380.98" stroke="#7c7c7c" stroke-width="1" />
<text x="375.84" y="392.43" font-size="9.6" text-anchor="middle" font-weight="normal" fill="#000" stroke="#000" stroke-width="0.22">3</text>
<line x1="397.12" y1="377.36" x2="397.12" y2="380.96" stroke="#7c7c7c" stroke-width="1" />
<text x="397.12" y="392.41" font-size="9.6" text-anchor="middle" font-weight="normal" fill="#000" stroke="#000" stroke-width="0.22">4</text>
<line x1="418.40" y1="377.33" x2="418.40" y2="380.93" stroke="#7c7c7c" stroke-width="1" />
<text x="418.40" y="392.38" font-size="9.6" text-anchor="middle" font-weight="normal" fill="#000" stroke="#000" stroke-width="0.22">5</text>
<line x1="439.68" y1="377.31" x2="439.68" y2="380.91" stroke="#7c7c7c" stroke-width="1" />
<text x="439.68" y="392.36" font-size="9.6" text-anchor="middle" font-weight="normal" fill="#000" stroke="#000" stroke-width="0.22">6</text>
<line x1="460.96" y1="377.29" x2="460.96" y2="380.89" stroke="#7c7c7c" stroke-width="1" />
<text x="460.96" y="392.34" font-size="9.6" text-anchor="middle" font-weight="normal" fill="#000" stroke="#000" stroke-width="0.22">7</text>
<line x1="482.24" y1="377.26" x2="482.24" y2="380.86" stroke="#7c7c7c" stroke-width="1" />
<text x="482.24" y="392.31" font-size="9.6" text-anchor="middle" font-weight="normal" fill="#000" stroke="#000" stroke-width="0.22">8</text>
<line x1="503.52" y1="377.24" x2="503.52" y2="380.84" stroke="#7c7c7c" stroke-width="1" />
<text x="503.52" y="392.29" font-size="9.6" text-anchor="middle" font-weight="normal" fill="#000" stroke="#000" stroke-width="0.22">9</text>
<text transform="translate(276.10,296.50) rotate(-90)" font-size="10" text-anchor="middle" fill="#000" stroke="#000" stroke-width="0.3" textLength="157.50" lengthAdjust="spacingAndGlyphs">Probability of leukemia-free survival</text>
<text x="403.50" y="409.50" font-size="10.1" text-anchor="start" font-weight="normal" fill="#000" textLength="23.10" lengthAdjust="spacingAndGlyphs" stroke="#000" stroke-width="0.22">Years</text>
<text x="319.90" y="238.20" font-size="17.7" text-anchor="start" font-weight="normal" fill="#000" textLength="12.57" lengthAdjust="spacingAndGlyphs" stroke="#000" stroke-width="0.3">D</text>
<text x="457.26" y="237.90" font-size="7.8" text-anchor="start" font-weight="normal" fill="#000" textLength="15.09" lengthAdjust="spacingAndGlyphs" stroke="#000" stroke-width="0.3">p=</text>
<text x="475.22" y="237.90" font-size="7.8" text-anchor="start" font-weight="normal" fill="#000" textLength="18.85" lengthAdjust="spacingAndGlyphs" stroke="#000" stroke-width="0.3">0.41</text>
<path d="M312.60,216.30 L312.60,240.00 L313.40,240.00 L313.40,262.00 L314.40,262.00 L314.40,284.00 L315.60,284.00 L315.60,300.00 L317.00,300.00 L317.00,312.00 L319.00,312.00 L319.00,322.00 L322.40,322.00 L322.40,332.50 L331.60,332.50 L331.60,344.40 L336.10,344.40 L336.10,348.60 L354.50,348.60 L354.50,354.60 L427.50,354.60 L427.50,364.80 L450.00,364.80" fill="none" stroke="#909090" stroke-width="0.7" />
<path d="M312.40,216.30 L312.40,239.00 L313.20,239.00 L313.20,262.00 L314.00,262.00 L314.00,285.00 L315.00,285.00 L315.00,308.00 L316.40,308.00 L316.40,320.00 L318.60,320.00 L318.60,331.00 L322.00,331.00 L322.00,342.60 L328.80,342.60 L328.80,354.30 L448.80,354.30" fill="none" stroke="#2a2a2a" stroke-width="0.85" stroke-dasharray="3.2,1.5,1.1,1.5" />
<path d="M312.20,216.30 L312.20,236.00 L312.90,236.00 L312.90,256.00 L313.60,256.00 L313.60,276.00 L314.40,276.00 L314.40,296.00 L315.40,296.00 L315.40,316.00 L316.60,316.00 L316.60,330.00 L317.80,330.00 L317.80,342.50 L319.60,342.50 L319.60,351.70 L321.50,351.70 L321.50,370.20 L385.60,370.20" fill="none" stroke="#333" stroke-width="0.75" stroke-dasharray="2.2,1.4" />
<path d="M312.20,216.30 L312.20,228.00 L312.80,228.00 L312.80,239.00 L313.30,239.00 L313.30,249.00 L313.80,249.00 L313.80,262.00 L314.30,262.00 L314.30,273.50 L314.90,273.50 L314.90,285.40 L315.40,285.40 L315.40,296.50 L316.00,296.50 L316.00,308.00" fill="none" stroke="#222" stroke-width="1.35" />
<path d="M316.00,308.00 L317.20,308.00 L317.20,318.70 L319.50,318.70 L319.50,326.00 L322.00,326.00 L322.00,333.00 L325.00,333.00 L325.00,339.00 L328.80,339.00 L328.80,344.40 L331.50,344.40 L331.50,348.00 L334.30,348.00 L334.30,351.00 L336.50,351.00 L336.50,354.50" fill="none" stroke="#3a3a3a" stroke-width="0.9" />
<path d="M336.50,354.50 L348.00,354.50 L348.00,360.60 L513.80,360.60" fill="none" stroke="#3a3a3a" stroke-width="0.8" />
<line x1="309.40" y1="227.60" x2="317.80" y2="227.60" stroke="#222" stroke-width="1.0" />
<line x1="309.40" y1="238.90" x2="317.80" y2="238.90" stroke="#222" stroke-width="1.0" />
<line x1="309.40" y1="249.30" x2="317.80" y2="249.30" stroke="#222" stroke-width="1.0" />
<line x1="310.70" y1="262.00" x2="319.30" y2="262.00" stroke="#222" stroke-width="1.0" />
<line x1="310.70" y1="273.50" x2="319.30" y2="273.50" stroke="#222" stroke-width="1.0" />
<line x1="310.70" y1="285.40" x2="319.30" y2="285.40" stroke="#222" stroke-width="1.0" />
<line x1="310.70" y1="296.50" x2="319.30" y2="296.50" stroke="#222" stroke-width="1.0" />
<line x1="310.70" y1="307.90" x2="319.30" y2="307.90" stroke="#222" stroke-width="1.0" />
<line x1="313.80" y1="318.70" x2="321.80" y2="318.70" stroke="#3a3a3a" stroke-width="0.8" />
<line x1="317.80" y1="314.70" x2="317.80" y2="322.70" stroke="#3a3a3a" stroke-width="0.8" />
<line x1="313.80" y1="342.50" x2="321.80" y2="342.50" stroke="#3a3a3a" stroke-width="0.8" />
<line x1="317.80" y1="338.50" x2="317.80" y2="346.50" stroke="#3a3a3a" stroke-width="0.8" />
<line x1="338.90" y1="350.50" x2="338.90" y2="358.50" stroke="#3a3a3a" stroke-width="0.9" />
<line x1="334.90" y1="354.50" x2="342.90" y2="354.50" stroke="#3a3a3a" stroke-width="0.9" />
<line x1="344.40" y1="350.50" x2="344.40" y2="358.50" stroke="#3a3a3a" stroke-width="0.9" />
<line x1="340.40" y1="354.50" x2="348.40" y2="354.50" stroke="#3a3a3a" stroke-width="0.9" />
<line x1="346.80" y1="350.50" x2="346.80" y2="358.50" stroke="#3a3a3a" stroke-width="0.9" />
<line x1="342.80" y1="354.50" x2="350.80" y2="354.50" stroke="#3a3a3a" stroke-width="0.9" />
<line x1="368.20" y1="350.30" x2="368.20" y2="358.30" stroke="#3a3a3a" stroke-width="0.9" />
<line x1="364.20" y1="354.30" x2="372.20" y2="354.30" stroke="#3a3a3a" stroke-width="0.9" />
<line x1="410.00" y1="350.30" x2="410.00" y2="358.30" stroke="#3a3a3a" stroke-width="0.9" />
<line x1="406.00" y1="354.30" x2="414.00" y2="354.30" stroke="#3a3a3a" stroke-width="0.9" />
<line x1="448.00" y1="350.30" x2="448.00" y2="358.30" stroke="#3a3a3a" stroke-width="0.9" />
<line x1="444.00" y1="354.30" x2="452.00" y2="354.30" stroke="#3a3a3a" stroke-width="0.9" />
<line x1="427.50" y1="354.70" x2="427.50" y2="364.70" stroke="#3a3a3a" stroke-width="0.9" />
<line x1="422.50" y1="359.70" x2="432.50" y2="359.70" stroke="#3a3a3a" stroke-width="0.9" />
<line x1="447.00" y1="359.80" x2="447.00" y2="369.80" stroke="#3a3a3a" stroke-width="0.9" />
<line x1="442.00" y1="364.80" x2="452.00" y2="364.80" stroke="#3a3a3a" stroke-width="0.9" />
<line x1="385.40" y1="365.70" x2="385.40" y2="374.70" stroke="#3a3a3a" stroke-width="0.9" />
<line x1="380.90" y1="370.20" x2="389.90" y2="370.20" stroke="#3a3a3a" stroke-width="0.9" />
<line x1="513.80" y1="356.60" x2="513.80" y2="364.60" stroke="#3a3a3a" stroke-width="0.9" />
<line x1="509.80" y1="360.60" x2="517.80" y2="360.60" stroke="#3a3a3a" stroke-width="0.9" />
<text x="421.15" y="349.80" font-size="8.0" text-anchor="start" font-weight="normal" fill="#000" textLength="16.21" lengthAdjust="spacingAndGlyphs" stroke="#000" stroke-width="0.2">PIF</text>
<text x="439.22" y="349.80" font-size="8.0" text-anchor="start" font-weight="normal" fill="#000" textLength="15.35" lengthAdjust="spacingAndGlyphs" stroke="#000" stroke-width="0.2">(n=</text>
<text x="457.28" y="349.80" font-size="8.0" text-anchor="start" font-weight="normal" fill="#000" textLength="15.06" lengthAdjust="spacingAndGlyphs" stroke="#000" stroke-width="0.2">14)</text>
<text x="458.61" y="358.30" font-size="8.2" text-anchor="start" font-weight="normal" fill="#000" textLength="20.08" lengthAdjust="spacingAndGlyphs" stroke="#000" stroke-width="0.2">Rel1</text>
<text x="482.91" y="358.30" font-size="8.2" text-anchor="start" font-weight="normal" fill="#000" textLength="14.38" lengthAdjust="spacingAndGlyphs" stroke="#000" stroke-width="0.2">(n=</text>
<text x="500.99" y="358.30" font-size="8.2" text-anchor="start" font-weight="normal" fill="#000" textLength="14.11" lengthAdjust="spacingAndGlyphs" stroke="#000" stroke-width="0.2">42)</text>
<text x="419.27" y="374.90" font-size="8.2" text-anchor="start" font-weight="normal" fill="#000" textLength="21.09" lengthAdjust="spacingAndGlyphs" stroke="#000" stroke-width="0.2">Rel2</text>
<text x="442.82" y="374.90" font-size="8.2" text-anchor="start" font-weight="normal" fill="#000" textLength="15.11" lengthAdjust="spacingAndGlyphs" stroke="#000" stroke-width="0.2">(n=</text>
<text x="461.51" y="374.90" font-size="8.2" text-anchor="start" font-weight="normal" fill="#000" textLength="14.82" lengthAdjust="spacingAndGlyphs" stroke="#000" stroke-width="0.2">28)</text>
<path d="M325.80,364.20 L332.40,365.70 L325.80,367.20 M325.80,368.45 L332.40,368.45" fill="none" stroke="#1a1a1a" stroke-width="0.72"/>
<text x="336.20" y="367.90" font-size="8.2" text-anchor="start" font-weight="normal" fill="#000" textLength="20.27" lengthAdjust="spacingAndGlyphs" stroke="#000" stroke-width="0.2">Rel3</text>
<text x="360.43" y="367.90" font-size="8.2" text-anchor="start" font-weight="normal" fill="#000" textLength="14.52" lengthAdjust="spacingAndGlyphs" stroke="#000" stroke-width="0.2">(n=</text>
<text x="378.26" y="367.90" font-size="8.2" text-anchor="start" font-weight="normal" fill="#000" textLength="14.24" lengthAdjust="spacingAndGlyphs" stroke="#000" stroke-width="0.2">24)</text>
</g>
</g></svg></body></html>
